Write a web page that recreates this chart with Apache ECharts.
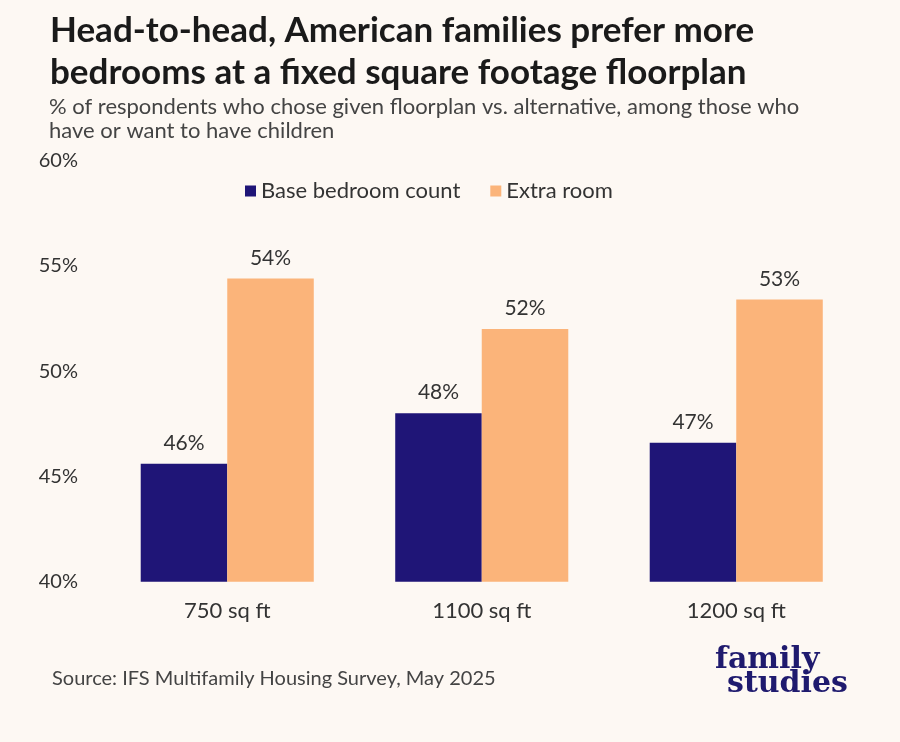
<!DOCTYPE html>
<html><head><meta charset="utf-8">
<script src="https://cdn.jsdelivr.net/npm/echarts@6/dist/echarts.min.js"></script>
<style>html,body{margin:0;padding:0;background:#fdf8f3;}#c{width:900px;height:742px;}</style>
</head><body><div id="c"></div>
<script>
const categories = ['750 sq ft', '1100 sq ft', '1200 sq ft'];
const baseBedroom = [45.6, 48.0, 46.6];
const extraRoom = [54.4, 52.0, 53.4];
const yTicks = [40, 45, 50, 55, 60];
const seriesNames = ['Base bedroom count', 'Extra room'];

const chart = echarts.init(document.getElementById('c'));
const lbl = {show: true, position: 'top', distance: 10, color: '#333', fontSize: 21, fontFamily: 'Lato', formatter: p => Math.round(p.value) + '%'};
chart.setOption({
  backgroundColor: '#fdf8f3',
  animation: false,
  title: [{
    text: 'Head-to-head, American families prefer more\nbedrooms at a fixed square footage floorplan',
    left: 45, top: 5,
    textStyle: {fontFamily: 'Lato', fontWeight: 'bold', fontSize: 35, lineHeight: 42, color: '#1a1a1a'}
  }, {
    text: '% of respondents who chose given floorplan vs. alternative, among those who\nhave or want to have children',
    left: 44, top: 90,
    textStyle: {fontFamily: 'Lato', fontWeight: 'normal', fontSize: 22, lineHeight: 24, color: '#444'}
  }],
  legend: {
    data: seriesNames, top: 175, left: 240,
    icon: 'rect', itemWidth: 11, itemHeight: 11, itemGap: 30,
    textStyle: {fontFamily: 'Lato', fontSize: 22, color: '#333'}
  },
  grid: {left: 100, right: 36.5, top: 160.5, bottom: 160.3, containLabel: false},
  xAxis: {
    type: 'category', data: categories,
    axisLine: {show: false}, axisTick: {show: false},
    axisLabel: {fontFamily: 'Lato', fontSize: 22, color: '#333', margin: 18}
  },
  yAxis: {
    type: 'value', min: 40, max: 60, interval: 5,
    splitLine: {show: false}, axisLine: {show: false}, axisTick: {show: false},
    axisLabel: {fontFamily: 'Lato', fontSize: 20, color: '#333', margin: 22,
      formatter: v => yTicks.includes(v) ? v + '%' : ''}
  },
  series: [
    {name: seriesNames[0], type: 'bar', data: baseBedroom, barGap: '0%', barCategoryGap: '32%',
     itemStyle: {color: '#1f1577'}, label: lbl},
    {name: seriesNames[1], type: 'bar', data: extraRoom,
     itemStyle: {color: '#fbb47a'}, label: lbl}
  ],
  graphic: [
    {type: 'text', x: 52, y: 679, style: {text: 'Source: IFS Multifamily Housing Survey, May 2025', fontFamily: 'Lato', fontSize: 20, fill: '#444', verticalAlign: 'middle'}},
    {type: 'text', x: 715, y: 660, style: {text: 'family', fontFamily: 'DejaVu Serif', fontWeight: 'bold', fontSize: 30, fill: '#1f1a6e', verticalAlign: 'middle'}},
    {type: 'text', x: 727, y: 684, style: {text: 'studies', fontFamily: 'DejaVu Serif', fontWeight: 'bold', fontSize: 30, fill: '#1f1a6e', verticalAlign: 'middle'}}
  ]
});
</script></body></html>
